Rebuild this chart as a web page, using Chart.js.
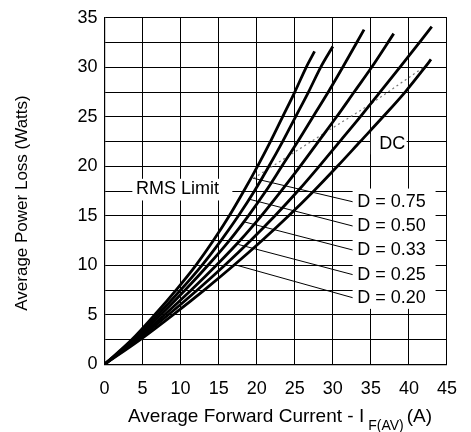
<!DOCTYPE html>
<html>
<head>
<meta charset="utf-8">
<script src="https://cdn.jsdelivr.net/npm/chart.js@4.4.1/dist/chart.umd.min.js"></script>
<style>
  html, body { margin: 0; padding: 0; background: #fff; }
  #wrap { position: relative; width: 471px; height: 432px; }
</style>
</head>
<body>
<div id="wrap"><canvas id="lossChart"></canvas></div>
<script>
// curves: [average current (A), power loss (W)]
const curveD020 = [[0,0],[3.6,2.5],[6.6,5],[9.4,7.5],[12.0,10],[14.3,12.5],[16.4,15],[18.3,17.5],[20.1,20],[21.8,22.5],[23.4,25],[25.0,27.5],[26.5,30],[27.6,31.6]];
const curveD025 = [[0,0],[3.8,2.5],[7.0,5],[10.0,7.5],[12.8,10],[15.3,12.5],[17.6,15],[19.7,17.5],[21.6,20],[23.4,22.5],[25.1,25],[26.8,27.5],[28.4,30],[30.0,32.1]];
const curveD033 = [[0,0],[4.0,2.5],[7.4,5],[10.6,7.5],[13.6,10],[16.4,12.5],[18.9,15],[21.2,17.5],[23.3,20],[25.4,22.5],[27.4,25],[29.4,27.5],[31.3,30],[34.1,33.8]];
const curveD050 = [[0,0],[4.2,2.5],[7.9,5],[11.4,7.5],[14.7,10],[17.8,12.5],[20.6,15],[23.2,17.5],[25.7,20],[28.1,22.5],[30.5,25],[32.8,27.5],[35.1,30],[38.0,33.4]];
const curveD075 = [[0,0],[4.4,2.5],[8.4,5],[12.2,7.5],[15.8,10],[19.2,12.5],[22.4,15],[25.4,17.5],[28.2,20],[30.9,22.5],[33.6,25],[36.2,27.5],[38.8,30],[43.0,34.1]];
const curveDC   = [[0,0],[4.7,2.5],[9.0,5],[13.1,7.5],[17.0,10],[20.7,12.5],[24.2,15],[27.5,17.5],[30.6,20],[33.6,22.5],[36.6,25],[39.5,27.5],[42.1,30],[42.9,30.8]];
const rmsLimit  = [[19.6,18.8],[24.5,21.2],[29.4,23.6],[35.0,26.3],[42.3,30.2]];

const dutyLabels = ['D = 0.75', 'D = 0.50', 'D = 0.33', 'D = 0.25', 'D = 0.20'];
const xTicks = [0, 5, 10, 15, 20, 25, 30, 35, 40, 45];
const yTicks = [0, 5, 10, 15, 20, 25, 30, 35];

const FONT = "'Liberation Sans', Arial, sans-serif";

// label placement (in data units)
const dutyLabelY = [16.42, 13.97, 11.55, 9.06, 6.73];
const leaderStart = [[19.5,18.8],[18.9,16.7],[18.3,14.4],[17.6,12.1],[17.4,10.0]];

function toXY(arr) { return arr.map(p => ({ x: p[0], y: p[1] })); }

function curve(label, pts) {
    return {
        label: label,
        data: toXY(pts),
        borderColor: '#000',
        borderWidth: 2.8,
        pointRadius: 0,
        fill: false,
        cubicInterpolationMode: 'monotone'
    };
}

const annotations = {
    id: 'annotations',
    beforeDatasetsDraw(chart) {
        const ctx = chart.ctx;
        const xs = chart.scales.x, ys = chart.scales.y;
        const px = v => xs.getPixelForValue(v);
        const py = v => ys.getPixelForValue(v);

        ctx.save();
        // white boxes that break the grid behind the labels
        ctx.fillStyle = '#fff';
        ctx.fillRect(px(3.66), py(18.74), px(16.8) - px(3.66), py(16.55) - py(18.74));
        ctx.fillRect(px(32.6), py(17.75), px(43.5) - px(32.6), py(5.6) - py(17.75));
        ctx.fillRect(px(35.0), py(23.3), px(39.7) - px(35.0), py(21.2) - py(23.3));

        // leader lines
        ctx.strokeStyle = '#000';
        ctx.lineWidth = 1;
        leaderStart.forEach((s, i) => {
            ctx.beginPath();
            ctx.moveTo(px(s[0]), py(s[1]));
            ctx.lineTo(px(32.6), py(dutyLabelY[i]));
            ctx.stroke();
        });

        ctx.fillStyle = '#000';
        ctx.font = '18px ' + FONT;
        ctx.textBaseline = 'middle';
        ctx.textAlign = 'left';
        ctx.fillText('RMS Limit', px(4.14), py(17.68));
        ctx.fillText('DC', px(36.1), py(22.2));
        dutyLabels.forEach((t, i) => ctx.fillText(t, px(33.2), py(dutyLabelY[i])));
        ctx.restore();
    },
    afterDraw(chart) {
        const ctx = chart.ctx;
        ctx.save();
        ctx.fillStyle = '#000';
        ctx.textBaseline = 'alphabetic';
        // x axis title with subscript
        ctx.font = '19px ' + FONT;
        ctx.textAlign = 'left';
        const main = 'Average Forward Current - I';
        ctx.fillText(main, 128, 422);
        let x = 128 + ctx.measureText(main).width + 4;
        ctx.font = '14px ' + FONT;
        ctx.fillText('F(AV)', x, 430);
        x += ctx.measureText('F(AV)').width + 3;
        ctx.font = '19px ' + FONT;
        ctx.fillText('(A)', x, 422);

        // y axis title
        ctx.translate(22, 203);
        ctx.rotate(-Math.PI / 2);
        ctx.font = '17px ' + FONT;
        ctx.textAlign = 'center';
        ctx.textBaseline = 'middle';
        ctx.fillText('Average Power Loss (Watts)', 0, 0);
        ctx.restore();
    }
};

const rmsDataset = {
    label: 'RMS Limit',
    data: toXY(rmsLimit),
    borderColor: '#777',
    borderWidth: 1.2,
    borderDash: [2, 3],
    pointRadius: 0,
    fill: false
};

new Chart(document.getElementById('lossChart'), {
    type: 'line',
    data: {
        datasets: [
            curve('DC', curveDC),
            curve(dutyLabels[0], curveD075),
            curve(dutyLabels[1], curveD050),
            curve(dutyLabels[2], curveD033),
            curve(dutyLabels[3], curveD025),
            curve(dutyLabels[4], curveD020),
            rmsDataset
        ]
    },
    options: {
        responsive: true,
        maintainAspectRatio: false,
        animation: false,
        layout: { padding: { left: 0, right: 17, top: 12.7, bottom: 0 } },
        plugins: { legend: { display: false }, tooltip: { enabled: false } },
        scales: {
            x: {
                type: 'linear',
                min: 0,
                max: 45,
                afterBuildTicks: s => { s.ticks = xTicks.map(v => ({ value: v })); },
                afterFit: s => { s.height = 67.7; },
                grid: { color: '#000', lineWidth: 1, drawTicks: false },
                border: { color: '#000', width: 1.2 },
                ticks: { color: '#000', padding: 14, maxRotation: 0, font: { size: 18, family: FONT } }
            },
            y: {
                min: 0,
                max: 35,
                afterBuildTicks: s => {
                    const t = [];
                    for (let v = 0; v <= 35; v += 2.5) t.push({ value: v });
                    s.ticks = t;
                },
                afterFit: s => { s.width = 104.5; },
                grid: { color: '#000', lineWidth: 1, drawTicks: false },
                border: { color: '#000', width: 1.2 },
                ticks: {
                    color: '#000',
                    padding: 7,
                    font: { size: 18, family: FONT },
                    callback: v => (yTicks.includes(v) ? String(v) : '')
                }
            }
        }
    },
    plugins: [annotations]
});
</script>
</body>
</html>
